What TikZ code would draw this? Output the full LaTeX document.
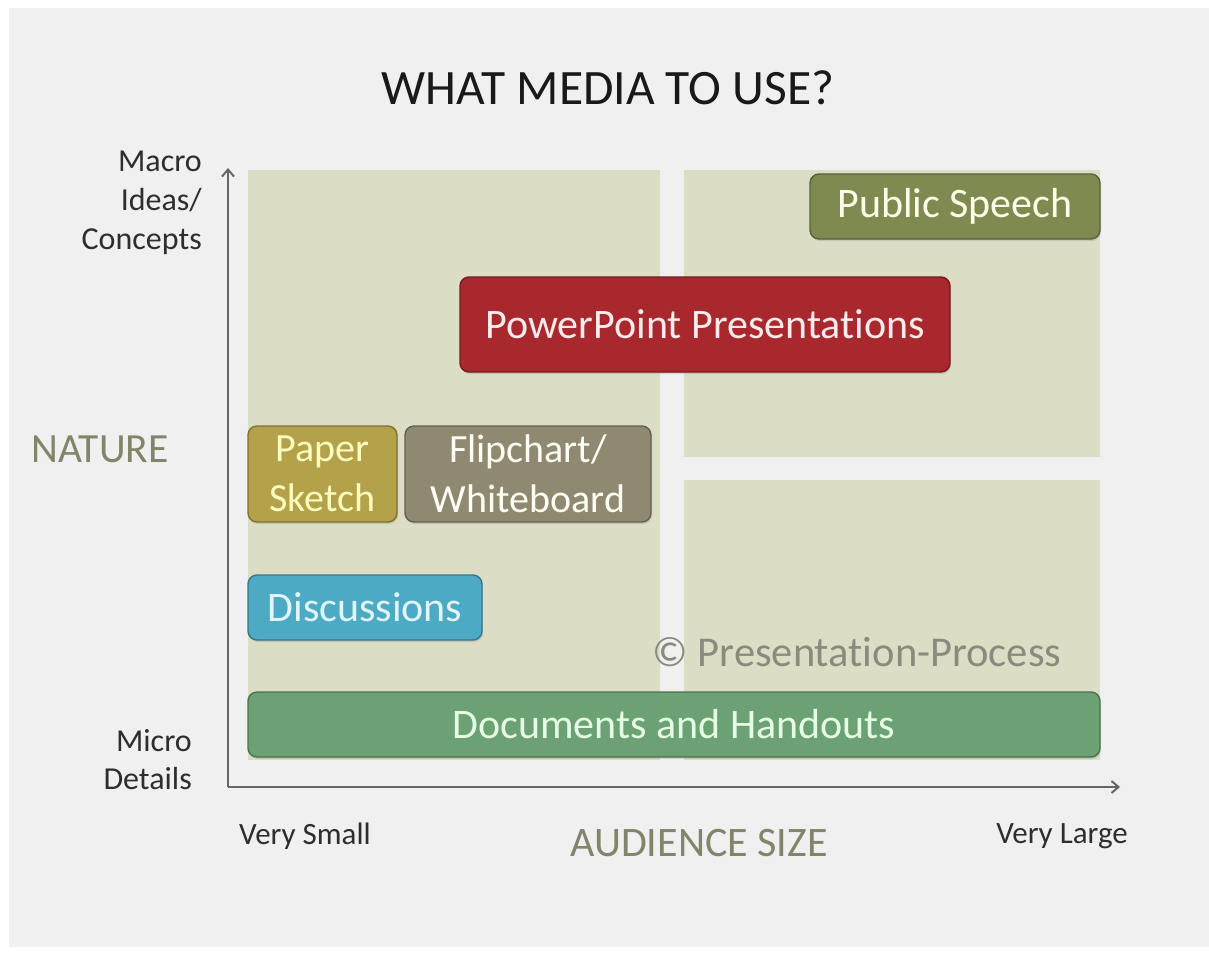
\documentclass[tikz,border=0pt]{standalone}
\usepackage{fontspec}
\setmainfont{Carlito}[RawFeature={-liga;-clig;-calt;-dlig}]
\usetikzlibrary{shadows,arrows.meta}
\definecolor{panelbg}{HTML}{F0F0F0}
\definecolor{quadfill}{HTML}{DCDDC5}
\definecolor{axisgrey}{HTML}{666666}
\definecolor{labeltext}{HTML}{2E2E2E}
\definecolor{axistitle}{HTML}{83846A}
\definecolor{markgrey}{HTML}{8A8A7E}
\definecolor{olivebox}{HTML}{7E8A4F}
\definecolor{redbox}{HTML}{A8282D}
\definecolor{mustardbox}{HTML}{B4A24A}
\definecolor{taupebox}{HTML}{8F8972}
\definecolor{bluebox}{HTML}{4CAAC5}
\definecolor{greenbox}{HTML}{6BA173}
% keep "t" and "i" as separate glyphs
\newcommand{\tsep}{t\kern0pt i}
\tikzset{
  mediabox/.style={draw=#1!70!black, fill=#1, line width=1.4pt, rounded corners=9pt,
    drop shadow={opacity=0.25, shadow xshift=1pt, shadow yshift=-2pt},
    font=\fontsize{42}{50}\selectfont, align=center, inner sep=0pt},
  quad/.style={fill=quadfill, draw=none},
  axisline/.style={draw=axisgrey, line width=2pt, -{Straight Barb[length=7pt,width=12pt]}},
  ticklabel/.style={text=labeltext, font=\fontsize{31}{38}\selectfont, inner sep=0pt},
  axistitle/.style={text=axistitle, font=\fontsize{42}{48}\selectfont, inner sep=0pt}
}
\begin{document}
\begin{tikzpicture}[x=1pt,y=-1pt]
  \useasboundingbox (0,0) rectangle (1209,956);
  \fill[white] (0,0) rectangle (1209,956);
  \fill[panelbg] (9,8) rectangle (1209,947);

  % quadrant backgrounds
  \path[quad] (248,170) rectangle (660,760);
  \path[quad] (684,170) rectangle (1100,457);
  \path[quad] (684,480) rectangle (1100,760);

  % title
  \node[text=black!90, font=\fontsize{49.5}{56}\selectfont, inner sep=0pt] (title) at (608,88) {WHAT MEDIA TO USE?};

  % axes
  \coordinate (origin) at (228,787);
  \coordinate (ytip) at (228,168);
  \coordinate (xtip) at (1120,787);
  \draw[axisline] (origin) -- (ytip);
  \draw[axisline] (origin) -- (xtip);

  % axis labels
  \node[ticklabel, anchor=east, align=right, font=\fontsize{32}{39}\selectfont] (macro) at (202,203) {Macro\\Ideas/\\Concepts};
  \node[ticklabel, anchor=east, align=right, font=\fontsize{32}{38}\selectfont] (micro) at (192,760) {Micro\\Details};
  \node[ticklabel] (vsmall) at (305,836) {Very Small};
  \node[ticklabel] (vlarge) at (1062,836) {Very Large};
  \node[axistitle, font=\fontsize{41.5}{48}\selectfont] (nature) at (100,449) {NATURE};
  \node[axistitle] (audience) at (699,843) {AUDIENCE SIZE};

  % watermark
  \node[text=markgrey, font=\fontsize{42.5}{48}\selectfont, inner sep=0pt] (mark) at (857,652) {© Presenta\tsep on-Process};

  % media boxes
  \node[mediabox=olivebox, text=white!92!yellow, minimum width=290pt, minimum height=65pt] (speech) at (955,206.5) {Public Speech};
  \node[mediabox=redbox, text=white!92!red, minimum width=490pt, minimum height=95pt] (ppt) at (705,324.5) {PowerPoint Presenta\tsep ons};
  \node[mediabox=mustardbox, text=yellow!25!white, minimum width=149pt, minimum height=96pt, font=\fontsize{40}{50}\selectfont] (paper) at (322.5,474) {Paper\\Sketch};
  \node[mediabox=taupebox, text=white!95!yellow, minimum width=246pt, minimum height=96pt, font=\fontsize{40}{50}\selectfont] (flip) at (528,474) {Flipchart/\\Whiteboard};
  \node[mediabox=bluebox, text=cyan!12!white, minimum width=234pt, minimum height=65pt] (disc) at (365,607.5) {Discussions};
  \node[mediabox=greenbox, text=green!10!white, minimum width=852pt, minimum height=65pt] (docs) at (674,724.5) {Documents and Handouts};
\end{tikzpicture}
\end{document}
